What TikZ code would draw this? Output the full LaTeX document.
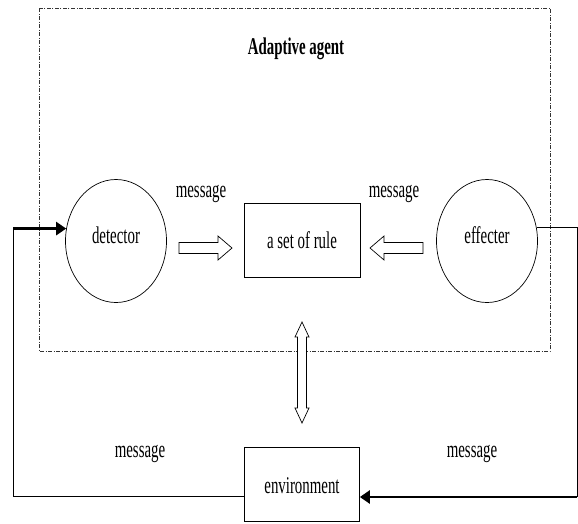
\documentclass[tikz,border=0pt]{standalone}
\usepackage{fontspec}
\setmainfont{Liberation Serif}[FakeStretch=0.62]
\usetikzlibrary{shapes.geometric,arrows.meta}

\newcommand\labelfont{\fontsize{24}{27}\selectfont}

\tikzset{
  txt/.style={inner sep=0pt, font=\labelfont},
  organ/.style={draw, ellipse, line width=0.7pt, minimum width=101pt, minimum height=123pt,
                inner sep=0pt, text depth=12pt, font=\labelfont},
  block/.style={draw, rectangle, line width=0.7pt, inner sep=0pt, font=\labelfont},
  agentframe/.style={draw=black!80, line width=0.6pt, dash pattern=on 4pt off 1.5pt on 1pt off 1.5pt},
  wire/.style={draw, line width=0.7pt},
  strong/.style={draw, line width=2.6pt, -{Triangle[length=10pt,width=13pt]}},
  fatarrow/.pic={
    \draw[line width=0.7pt, fill=white, line join=miter]
      (0,-5.5) -- (39,-5.5) -- (39,-12) -- (53,0) -- (39,12) -- (39,5.5) -- (0,5.5) -- cycle;
  },
  twinarrow/.pic={
    \draw[line width=0.7pt, fill=white, line join=miter]
      (0,0) -- (7,15) -- (4.5,15) -- (4.5,86) -- (7,86) -- (0,101)
      -- (-7,86) -- (-4.5,86) -- (-4.5,15) -- (-7,15) -- cycle;
  }
}

\begin{document}
\begin{tikzpicture}[x=1pt, y=-1pt]
  \useasboundingbox (0,0) rectangle (578,523);

  % the agent's frame and its title
  \draw[agentframe] (39,8) rectangle (550,351);
  \node[txt, font=\labelfont\bfseries] (title) at (296,49) {Adaptive agent};

  % parts of the agent
  \node[organ] (detector) at (116,241) {detector};
  \node[organ] (effecter) at (487,241) {effecter};
  \node[block, minimum width=116pt, minimum height=74pt] (rules) at (302,240) {a set of rule};
  \node[block, minimum width=115pt, minimum height=74pt, text height=19pt] (env) at (302,484) {environment};

  % message labels
  \node[txt] (msgL) at (201,194) {message};
  \node[txt] (msgR) at (394,194) {message};
  \node[txt] (msgBL) at (140,454) {message};
  \node[txt] (msgBR) at (472,454) {message};

  % internal message flow
  \pic at (179,248) {fatarrow};
  \pic[rotate=180] at (423,248) {fatarrow};
  \pic at (302,322) {twinarrow};

  % loop through the environment
  \coordinate (envL) at ([yshift=-12pt]env.west);
  \coordinate (envR) at ([yshift=-13pt]env.east);
  \coordinate (xl) at (13,0);
  \coordinate (xr) at (577,0);
  \coordinate (cornerLB) at (xl |- envL);
  \coordinate (cornerLT) at (xl |- detector.166);
  \coordinate (cornerRT) at (xr |- effecter.15);
  \coordinate (cornerRB) at (xr |- envR);

  \draw[wire] (envL) -- (cornerLB) -- (cornerLT);
  \draw[strong] (cornerLT) -- (detector.166);
  \draw[wire] (effecter.15) -- (cornerRT) -- (cornerRB);
  \draw[strong] (cornerRB) -- (envR);
\end{tikzpicture}
\end{document}
